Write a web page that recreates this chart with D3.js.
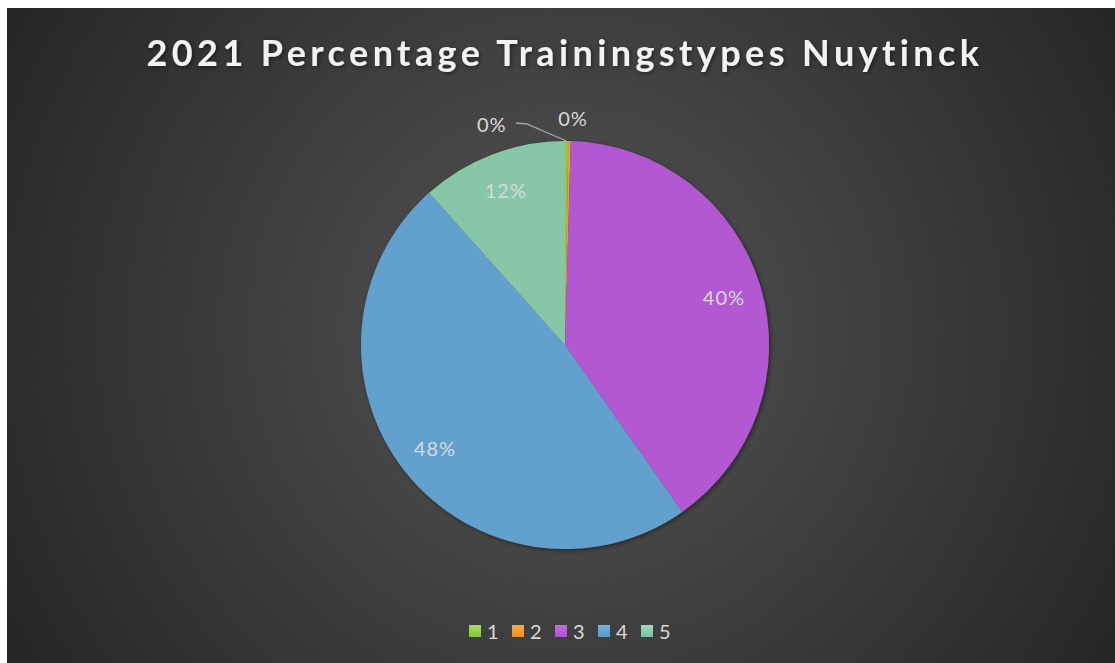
<!DOCTYPE html>
<html>
<head>
<meta charset="utf-8">
<script src="https://cdn.jsdelivr.net/npm/d3@7"></script>
<style>
  html, body { margin: 0; padding: 0; background: #fff; }
  svg { display: block; }
</style>
</head>
<body>
<div id="chart"></div>
<script>
const width = 1115;
const height = 663;

// data (percent of trainings per type)
const categories = ['1', '2', '3', '4', '5'];
const values = [0.25, 0.2, 39.8, 48.15, 11.6];
const colors = ['#8fca44', '#f7992f', '#b259d3', '#62a0cd', '#88c6a8'];
const title = '2021 Percentage Trainingstypes Nuytinck';

const cx = 565, cy = 345, radius = 204;

const svg = d3.select('#chart').append('svg')
  .attr('width', width)
  .attr('height', height);

const defs = svg.append('defs');

const bg = defs.append('radialGradient')
  .attr('id', 'bg')
  .attr('gradientUnits', 'userSpaceOnUse')
  .attr('cx', cx).attr('cy', 330).attr('r', 640);
bg.append('stop').attr('offset', '0%').attr('stop-color', '#555555');
bg.append('stop').attr('offset', '100%').attr('stop-color', '#262626');

const shadow = defs.append('filter').attr('id', 'shadow')
  .attr('x', '-20%').attr('y', '-20%').attr('width', '140%').attr('height', '140%');
shadow.append('feDropShadow')
  .attr('dx', 1.5).attr('dy', 1.5).attr('stdDeviation', 2)
  .attr('flood-color', '#000').attr('flood-opacity', 0.45);

colors.forEach((c, i) => {
  const g = defs.append('linearGradient')
    .attr('id', 'leg' + i)
    .attr('x1', 0).attr('y1', 0).attr('x2', 0).attr('y2', 1);
  g.append('stop').attr('offset', '0%').attr('stop-color', d3.color(c).brighter(0.35));
  g.append('stop').attr('offset', '100%').attr('stop-color', d3.color(c).darker(0.15));
});

// chart area
svg.append('rect')
  .attr('x', 7).attr('y', 8)
  .attr('width', width - 7).attr('height', height - 8)
  .attr('fill', 'url(#bg)');

// title
svg.append('text')
  .attr('x', cx)
  .attr('y', 66)
  .attr('text-anchor', 'middle')
  .style('font-family', 'Lato, "Open Sans", sans-serif')
  .style('font-weight', 'bold')
  .style('font-size', '36px')
  .style('letter-spacing', '4.4px')
  .style('fill', '#f2f2f2')
  .attr('filter', 'url(#shadow)')
  .text(title);

const pie = d3.pie().sort(null).value(d => d.value);
const data = pie(categories.map((c, i) => ({ cat: c, value: values[i], color: colors[i] })));

const arc = d3.arc().innerRadius(0).outerRadius(radius);
const labelArc = d3.arc().innerRadius(166).outerRadius(166);
const outerArc = d3.arc().innerRadius(radius + 22).outerRadius(radius + 22);
const edgeArc = d3.arc().innerRadius(radius).outerRadius(radius);

const g = svg.append('g').attr('transform', `translate(${cx},${cy})`);

g.append('g')
  .attr('filter', 'url(#shadow)')
  .selectAll('path')
  .data(data)
  .join('path')
  .attr('d', arc)
  .attr('fill', d => d.data.color);

const fmt = d3.format('.0%');
const total = d3.sum(values);
const labelStyle = sel => sel
  .attr('text-anchor', 'middle')
  .attr('dominant-baseline', 'central')
  .style('font-family', 'Lato, "Open Sans", sans-serif')
  .style('font-size', '20px')
  .style('letter-spacing', '1px')
  .style('fill', '#d9d9d9');

// big slices: label inside
g.selectAll('text.inside')
  .data(data.filter(d => d.data.value / total >= 0.05))
  .join('text')
  .attr('class', 'inside')
  .call(labelStyle)
  .attr('transform', d => `translate(${labelArc.centroid(d)})`)
  .text(d => fmt(d.data.value / total));

// tiny slices: label outside; first one is pushed left with a leader line
const tiny = data.filter(d => d.data.value / total < 0.05);
const shiftX = [-75, 3];
const shiftY = [5, -1];
tiny.forEach((d, i) => {
  const [ox, oy] = outerArc.centroid(d);
  const lx = ox + shiftX[i], ly = oy + shiftY[i];
  if (i === 0) {
    const [ex, ey] = edgeArc.centroid(d);
    g.append('polyline')
      .attr('points', [[lx + 24, ly - 1], [lx + 35, ly], [ex, ey]].map(p => p.join(',')).join(' '))
      .attr('fill', 'none')
      .attr('stroke', '#a6a6a6')
      .attr('stroke-width', 1.3);
  }
  g.append('text')
    .call(labelStyle)
    .attr('x', lx)
    .attr('y', ly)
    .text(fmt(d.data.value / total));
});

// legend
const legendX = d3.scalePoint().domain(categories).range([469, 641]);
const legend = svg.append('g');
const item = legend.selectAll('g')
  .data(categories)
  .join('g')
  .attr('transform', d => `translate(${legendX(d)},625)`);
item.append('rect')
  .attr('width', 12).attr('height', 12)
  .attr('fill', (d, i) => `url(#leg${i})`);
item.append('text')
  .attr('x', 18)
  .attr('y', 6)
  .attr('dominant-baseline', 'central')
  .style('font-family', 'Lato, "Open Sans", sans-serif')
  .style('font-size', '20px')
  .style('fill', '#d9d9d9')
  .text(d => d);
</script>
</body>
</html>
